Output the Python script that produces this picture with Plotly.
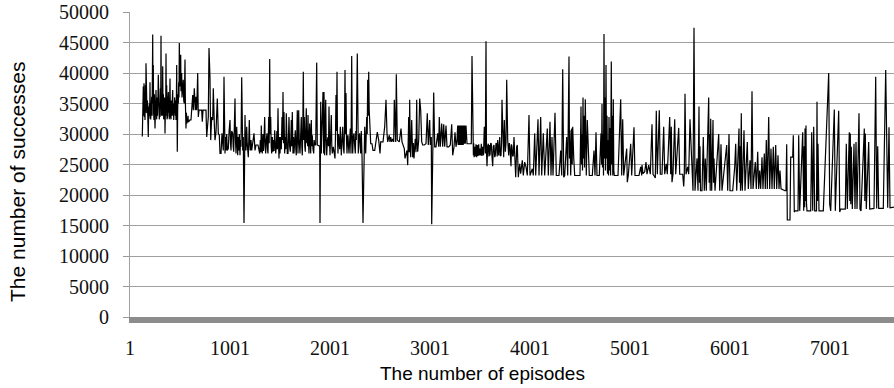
import plotly.graph_objects as go

# (episode, number of successes) readings, split by training phase
phase_1 = [
    (124, 29600), (130, 36500), (134, 37800), (138, 33000), (141, 38300), (145, 32800),
    (148, 36000), (151, 32300), (155, 38000), (158, 33500), (161, 41600), (165, 34000),
    (168, 37000), (171, 33400), (175, 35500), (179, 32000), (184, 29500), (188, 34500),
    (191, 32500), (194, 35000), (198, 33000), (201, 38500), (204, 33500), (208, 32400),
    (212, 35500), (215, 33000), (218, 36100), (222, 33000), (225, 38000), (228, 46300),
    (231, 35000), (234, 41300), (237, 33500), (241, 32300), (245, 36500), (248, 33000),
    (251, 30900), (255, 35000), (258, 33000), (261, 37200), (264, 34000), (268, 32400),
    (272, 36000), (276, 33000), (280, 35500), (284, 39700), (288, 33500), (291, 36500),
    (294, 32400), (298, 35000), (301, 32800), (305, 37500), (308, 34000), (311, 46100),
    (315, 33000), (318, 38500), (321, 34500), (325, 33000), (328, 41100), (331, 34000),
    (335, 36500), (338, 32400), (342, 35500), (345, 33000), (348, 36000), (351, 30100),
    (355, 34000), (358, 33000), (361, 43200), (365, 34500), (368, 38000), (371, 32400),
    (375, 35000), (378, 33000), (381, 36000), (384, 36900), (388, 33500), (391, 35500),
    (394, 32400), (398, 36000), (401, 39100), (405, 33000), (408, 35000), (411, 32400),
    (415, 35500), (418, 33000), (421, 36500), (425, 33500), (428, 37200), (431, 33000),
    (435, 35000), (438, 32300), (441, 35500), (445, 33000), (448, 36000), (451, 34200),
    (455, 33000), (458, 35500), (461, 32300), (465, 36000), (468, 41300), (471, 33000),
    (474, 27100), (478, 34000), (481, 36500), (484, 35000), (488, 38500), (491, 36000),
    (494, 44900), (498, 38000), (501, 37800), (505, 40000), (508, 43000), (511, 37000),
    (515, 38000), (518, 40000), (521, 36000), (525, 37500), (528, 36100), (531, 38000),
    (534, 38900), (538, 35500), (541, 37000), (544, 35000), (548, 38000), (551, 42200),
    (555, 35000), (558, 33000), (561, 30900), (565, 33500), (568, 31700), (571, 32800),
    (574, 32000), (578, 32300), (581, 33000), (584, 32100), (588, 32000), (601, 32300),
    (611, 32300), (618, 33900), (628, 36400), (634, 33900), (644, 37500), (654, 33900),
    (661, 36100), (668, 33900), (678, 40000), (684, 32800), (691, 33900), (718, 33900),
    (724, 32000), (731, 33900), (761, 33900), (768, 29500), (778, 32300), (784, 32800),
    (791, 44100), (801, 39100), (808, 29000), (818, 32800), (828, 32300), (834, 37500),
    (844, 31700), (851, 29000), (861, 30300), (874, 35800), (884, 30100), (894, 29800),
    (901, 26800), (911, 26800), (921, 30100), (934, 27300), (941, 39400), (951, 26800),
    (956, 29500), (961, 27300), (968, 30000), (974, 27300), (984, 27600), (992, 30500),
    (1001, 32300), (1006, 28500), (1011, 27300), (1018, 30500), (1028, 30100), (1033, 28000),
    (1038, 27100), (1044, 31000), (1051, 35800), (1056, 29000), (1061, 26800), (1068, 31200),
    (1073, 28000), (1078, 26500), (1083, 29500), (1088, 27300), (1094, 30000), (1101, 26500),
    (1106, 29000), (1111, 27900), (1118, 39300), (1123, 30000), (1128, 27300), (1134, 29500),
    (1141, 15400), (1148, 27300), (1151, 33100), (1156, 28500), (1161, 27300), (1168, 31200),
    (1173, 28500), (1178, 27300), (1184, 26200), (1189, 29000), (1194, 32300), (1199, 28500),
    (1204, 27300), (1211, 29000), (1218, 27300), (1241, 30100), (1251, 27300), (1261, 28200),
    (1281, 28200),
]

phase_2 = [
    (1298, 26800), (1304, 29000), (1309, 27000), (1314, 31400), (1319, 27500), (1324, 26800),
    (1330, 30000), (1336, 27200), (1342, 29500), (1348, 32800), (1353, 28000), (1358, 26800),
    (1364, 29000), (1371, 30100), (1376, 27500), (1381, 26800), (1388, 32800), (1393, 28500),
    (1398, 42300), (1403, 30000), (1408, 32800), (1413, 28000), (1418, 26800), (1424, 29500),
    (1431, 27100), (1437, 29000), (1442, 27200), (1448, 30600), (1453, 28000), (1458, 26800),
    (1464, 27900), (1470, 30500), (1475, 27500), (1481, 34200), (1486, 28500), (1491, 26000),
    (1496, 29500), (1501, 26800), (1508, 29500), (1514, 27500), (1521, 32800), (1526, 29000),
    (1531, 36900), (1536, 28500), (1541, 33600), (1548, 26800), (1554, 29500), (1559, 27500),
    (1564, 33400), (1569, 28500), (1574, 26800), (1581, 26800), (1586, 30500), (1591, 32800),
    (1597, 28000), (1604, 27100), (1609, 29000), (1614, 32300), (1619, 28000), (1624, 33600),
    (1631, 26800), (1636, 29500), (1641, 26800), (1648, 28500), (1654, 30600), (1659, 27500),
    (1664, 26500), (1669, 30000), (1674, 33900), (1681, 26800), (1688, 33900), (1694, 28500),
    (1701, 26800), (1707, 29500), (1714, 32800), (1719, 28000), (1724, 26500), (1729, 31000),
    (1734, 40200), (1739, 29000), (1744, 32800), (1749, 28000), (1754, 27100), (1759, 31000),
    (1764, 34200), (1769, 28500), (1774, 30100), (1778, 28000), (1781, 33100), (1786, 28500),
    (1791, 26800), (1798, 31700), (1803, 28000), (1808, 26800), (1814, 32300), (1819, 28000),
    (1824, 29800), (1831, 27500), (1838, 26800), (1843, 29000), (1848, 28200), (1858, 28200),
    (1868, 41700), (1874, 28200), (1888, 28000), (1898, 28000), (1901, 15400), (1908, 35300),
    (1914, 26800), (1918, 30500), (1921, 26800), (1931, 36900), (1936, 30000), (1938, 26800),
    (1941, 36900), (1945, 30000), (1948, 26500), (1953, 30500), (1958, 35600), (1963, 29000),
    (1968, 26500), (1975, 29000), (1981, 29500), (1986, 28000), (1991, 34500), (1996, 29000),
    (2001, 26500), (2008, 30000), (2014, 33100), (2019, 28000), (2024, 26800), (2034, 27900),
    (2044, 26800), (2051, 26000), (2056, 30000), (2061, 36400), (2066, 30500), (2071, 40200),
    (2076, 29000), (2081, 26800), (2086, 30000), (2091, 28400), (2098, 27500), (2104, 31200),
    (2109, 28000), (2114, 26500), (2121, 29000), (2128, 31200), (2134, 28000), (2141, 26800),
    (2146, 31000), (2151, 40500), (2156, 30000), (2161, 36700), (2166, 29000), (2171, 26800),
    (2176, 29500), (2181, 29800), (2186, 28000), (2191, 26800), (2198, 29000), (2204, 30900),
    (2211, 26800), (2218, 42800), (2223, 30000), (2228, 26800), (2234, 29500), (2241, 30100),
    (2248, 28000), (2254, 26800), (2259, 30500), (2264, 29000), (2274, 43200), (2279, 30000),
    (2284, 26800), (2291, 29500), (2298, 30100), (2303, 28000), (2308, 26800), (2314, 30500),
    (2321, 26500), (2331, 15400), (2341, 26800), (2348, 31200), (2358, 26800), (2368, 32800),
    (2373, 30000), (2378, 38900), (2383, 33000), (2388, 40200), (2393, 34000), (2398, 32300),
    (2408, 28400), (2421, 28400), (2431, 27300), (2448, 27300), (2464, 29800), (2474, 30300),
    (2488, 29000), (2501, 26800), (2508, 28700), (2531, 28700), (2548, 31200), (2558, 35600),
]

phase_3 = [
    (2561, 35600), (2571, 30100), (2578, 28700), (2594, 29800), (2601, 28700), (2608, 29500),
    (2618, 28700), (2628, 29200), (2638, 28700), (2644, 35600), (2651, 29200), (2658, 28700),
    (2664, 39800), (2674, 29000), (2694, 28700), (2711, 30900), (2721, 28700), (2734, 27900),
    (2744, 27600), (2751, 26000), (2761, 26500), (2771, 27300), (2778, 24900), (2783, 29000),
    (2788, 32800), (2793, 27000), (2798, 35600), (2803, 28000), (2808, 26200), (2818, 32300),
    (2823, 27000), (2828, 26200), (2834, 28500), (2841, 26000), (2848, 28000), (2854, 29200),
    (2861, 27000), (2868, 35600), (2873, 28500), (2878, 27100), (2888, 29000), (2898, 35800),
    (2908, 33900), (2918, 28700), (2928, 28200), (2944, 28200), (2961, 28400), (2974, 33400),
    (2984, 28200), (2998, 32300), (3004, 28200), (3014, 29500), (3018, 15200), (3028, 29500),
    (3038, 36800), (3048, 27900), (3061, 27900), (3078, 30100), (3088, 27900), (3094, 32800),
    (3104, 27900), (3118, 31700), (3128, 27900), (3138, 31600), (3148, 27900), (3161, 31400),
    (3171, 27900), (3188, 27900), (3204, 28200), (3218, 31600), (3228, 26500), (3241, 27900),
    (3251, 30300), (3261, 27900), (3271, 29000), (3278, 31400), (3283, 28200), (3288, 31400),
    (3293, 28200), (3298, 31400), (3303, 28200), (3308, 31400), (3313, 28200), (3318, 31400),
    (3323, 28200), (3328, 31400), (3333, 28200), (3338, 31400), (3343, 28400), (3348, 31400),
    (3354, 28400), (3361, 31400), (3371, 28400), (3394, 28400), (3414, 28400), (3421, 42800),
    (3431, 28400), (3435, 26500), (3438, 28500), (3442, 26200), (3448, 27900), (3454, 26300),
    (3461, 28300), (3468, 26200), (3474, 28200), (3481, 26400), (3488, 28300), (3494, 26500),
    (3501, 27600), (3508, 26500), (3514, 28400), (3521, 26400), (3528, 27900), (3536, 26500),
    (3544, 31200), (3554, 26800), (3561, 45200), (3566, 27000), (3571, 24700), (3578, 28000),
    (3584, 28400), (3591, 26300), (3596, 28200), (3601, 26500), (3608, 28500), (3614, 28400),
    (3621, 26300), (3628, 24700), (3634, 28000), (3641, 28200), (3648, 26200), (3654, 26500),
    (3661, 28500), (3668, 28400), (3673, 26300), (3678, 29000), (3688, 26500), (3694, 28500),
    (3698, 29500), (3704, 26400), (3711, 26500), (3716, 28500), (3721, 35600), (3728, 31200),
    (3738, 26200), (3744, 32300), (3754, 27100), (3761, 28500), (3768, 38900), (3778, 29000),
    (3788, 26500), (3794, 28500), (3801, 27900), (3806, 26200), (3811, 24700), (3816, 28300),
    (3821, 27900), (3828, 26300), (3834, 26500),
]

phase_4 = [
    (3841, 29500), (3851, 26800), (3858, 22900), (3868, 27900), (3874, 28200), (3884, 22900),
    (3898, 25100), (3908, 23500), (3924, 25700), (3934, 23200), (3948, 25400), (3961, 24600),
    (3974, 23200), (3991, 33100), (4001, 23200), (4024, 24300), (4034, 23200), (4048, 30100),
    (4058, 23200), (4081, 32400), (4091, 23200), (4108, 32800), (4118, 23200), (4134, 30100),
    (4148, 23200), (4174, 30900), (4184, 23200), (4201, 32000), (4211, 23200), (4221, 29500),
    (4231, 23200), (4251, 33500), (4264, 23200), (4291, 23200), (4308, 27300), (4318, 23200),
    (4328, 40600), (4338, 22900), (4348, 23200), (4368, 29500), (4378, 23200), (4391, 42700),
    (4396, 26000), (4401, 30600), (4408, 23200), (4418, 30900), (4423, 25000), (4428, 31200),
    (4438, 26200), (4448, 23200), (4474, 23200), (4501, 23200), (4511, 34500), (4516, 25000),
    (4521, 30000), (4526, 24000), (4531, 36000), (4536, 26000), (4541, 33000), (4546, 24500),
    (4554, 35700), (4559, 26000), (4564, 23200), (4574, 32300), (4584, 25400), (4594, 23200),
    (4624, 23200), (4641, 27300), (4651, 23200), (4661, 30300), (4671, 23200), (4694, 23200),
    (4711, 30100), (4716, 25000), (4721, 34900), (4726, 24500), (4731, 30000), (4736, 23200),
    (4741, 46400), (4746, 26000), (4751, 36000), (4756, 24000), (4761, 41300), (4766, 26000),
    (4771, 33000), (4776, 23500), (4781, 29000), (4786, 23200), (4791, 32800), (4796, 24000),
    (4801, 31000), (4807, 23200), (4814, 41900), (4819, 25000), (4824, 33000), (4829, 23200),
    (4834, 35700), (4839, 24000), (4844, 23200), (4881, 23200), (4908, 35700), (4918, 23200),
    (4928, 32400), (4938, 23200), (4968, 27600), (4974, 22100), (4984, 23200), (5008, 28400),
    (5018, 23200), (5041, 31100), (5051, 23200), (5091, 23200), (5108, 24600), (5118, 23200),
]

phase_5 = [
    (5121, 24900), (5131, 23500), (5148, 23800), (5161, 25400), (5171, 23400), (5188, 24900),
    (5204, 23400), (5221, 31600), (5231, 23400), (5248, 23000), (5254, 22800), (5264, 33800),
    (5274, 23400), (5294, 33900), (5304, 23400), (5321, 23400), (5338, 31200), (5348, 23400),
    (5364, 25100), (5374, 23400), (5398, 32800), (5408, 23400), (5414, 31200), (5421, 22100),
    (5431, 23400), (5448, 32400), (5458, 23400), (5488, 31000), (5498, 23400), (5528, 23400),
    (5538, 21400), (5544, 23400), (5551, 36600), (5561, 23400), (5578, 24600), (5588, 23400),
    (5601, 32400), (5611, 28400), (5621, 23400), (5631, 20700), (5641, 47400), (5651, 20700),
    (5671, 26000), (5681, 20700), (5691, 34500), (5696, 22000), (5701, 28000), (5706, 20700),
    (5721, 20700), (5734, 29500), (5744, 20700), (5754, 26000), (5764, 20700), (5788, 36000),
    (5793, 22000), (5798, 30000), (5803, 20700), (5808, 32500), (5818, 20700), (5831, 32300),
    (5836, 22000), (5841, 26000), (5851, 20700), (5888, 30000), (5898, 20700), (5911, 28300),
    (5921, 20700), (5968, 28200), (5978, 20700), (5991, 30000), (6001, 20700), (6028, 20700),
    (6048, 24600), (6058, 28400), (6068, 20700), (6091, 30900), (6096, 22000), (6101, 28000),
    (6106, 20700), (6114, 33400), (6119, 22000), (6124, 20700), (6141, 30600), (6151, 20700),
    (6174, 28700), (6184, 21000), (6201, 25700), (6211, 21000), (6221, 37000), (6231, 21000),
    (6254, 25400), (6264, 21000), (6278, 27100), (6288, 21000), (6298, 24000), (6308, 21000),
    (6321, 26200), (6331, 21000), (6344, 26800), (6354, 21000), (6364, 29000), (6374, 21000),
    (6388, 32800), (6398, 21000),
]

phase_6 = [
    (6411, 27600), (6416, 22000), (6421, 21000), (6434, 27900), (6439, 22500), (6444, 21000),
    (6458, 28200), (6463, 23000), (6468, 21000), (6481, 26500), (6486, 22500), (6491, 21000),
    (6501, 24000), (6511, 21000), (6551, 20700), (6561, 20700), (6568, 28300), (6574, 15900),
    (6601, 15900), (6608, 26200), (6628, 26200), (6634, 29800), (6644, 17200), (6651, 17400),
    (6681, 17400), (6688, 29800), (6698, 17400), (6728, 30300), (6738, 17400), (6743, 28000),
    (6748, 18000), (6751, 30900), (6756, 19000), (6761, 31400), (6766, 18500), (6771, 17400),
    (6808, 17400), (6818, 30300), (6828, 17400), (6838, 31200), (6848, 17400), (6866, 17400),
    (6871, 35300), (6876, 19000), (6881, 28400), (6891, 17400), (6934, 17400), (6988, 40000),
    (6998, 18500), (7008, 17400), (7044, 34000), (7054, 17400), (7088, 33800), (7098, 17200),
    (7108, 17700), (7154, 17700), (7164, 28400), (7169, 18500), (7174, 17700), (7194, 30300),
    (7199, 19000), (7204, 30100), (7209, 18500), (7214, 27900), (7219, 18000), (7224, 17700),
    (7241, 28400), (7246, 18500), (7251, 17700), (7261, 28700), (7271, 17700), (7291, 33400),
    (7301, 17700), (7311, 17400), (7344, 30900), (7349, 19000), (7354, 30100), (7364, 17700),
    (7388, 28700), (7398, 17700), (7441, 17800), (7458, 39400), (7468, 17800), (7478, 28000),
    (7488, 17800), (7534, 17800), (7558, 40500), (7568, 29200), (7578, 17900), (7591, 31100),
    (7601, 17900), (7641, 18000),
]

episode_ticks = [1, 1001, 2001, 3001, 4001, 5001, 6001, 7001]
episode_tick_labels = ["1", "1001", "2001", "3001", "4001", "5001", "6001", "7001"]
success_ticks = list(range(0, 50001, 5000))

readings = phase_1 + phase_2 + phase_3 + phase_4 + phase_5 + phase_6
episodes = [p[0] for p in readings]
successes = [p[1] for p in readings]

fig = go.Figure(
    go.Scatter(
        x=episodes,
        y=successes,
        mode="lines",
        line=dict(color="#000000", width=1.2),
        hoverinfo="skip",
        showlegend=False,
    )
)

tick_font = dict(family="Liberation Serif", size=20, color="#111111")
title_family = "Liberation Sans"

fig.update_layout(
    width=894,
    height=388,
    autosize=False,
    margin=dict(l=130, r=0, t=12, b=71),
    paper_bgcolor="#ffffff",
    plot_bgcolor="#ffffff",
    xaxis=dict(
        range=[1, 7641],
        tickmode="array",
        tickvals=episode_ticks,
        ticktext=episode_tick_labels,
        tickfont=tick_font,
        ticks="",
        ticklabelstandoff=8,
        showgrid=False,
        zeroline=False,
        showline=True,
        linecolor="#8c8c8c",
        linewidth=6,
    ),
    yaxis=dict(
        range=[0, 50000],
        tickmode="array",
        tickvals=success_ticks,
        ticktext=[str(v) for v in success_ticks],
        tickfont=tick_font,
        ticks="outside",
        ticklen=6,
        tickcolor="#9a9a9a",
        tickwidth=1,
        ticklabelstandoff=10,
        showgrid=True,
        gridcolor="#a0a0a0",
        gridwidth=1,
        zeroline=False,
        showline=True,
        linecolor="#a0a0a0",
        linewidth=1,
    ),
    annotations=[
        dict(
            text="The number of episodes",
            xref="paper", yref="paper",
            x=(482 - 130) / 764, y=(317 - 373) / 305,
            xanchor="center", yanchor="middle",
            showarrow=False,
            font=dict(family=title_family, size=19, color="#000000"),
        ),
        dict(
            text="The number of successes",
            xref="paper", yref="paper",
            x=(18 - 130) / 764, y=(317 - 182) / 305,
            xanchor="center", yanchor="middle",
            textangle=-90,
            showarrow=False,
            font=dict(family=title_family, size=21, color="#000000"),
        ),
    ],
)

fig.write_html("out.html")
